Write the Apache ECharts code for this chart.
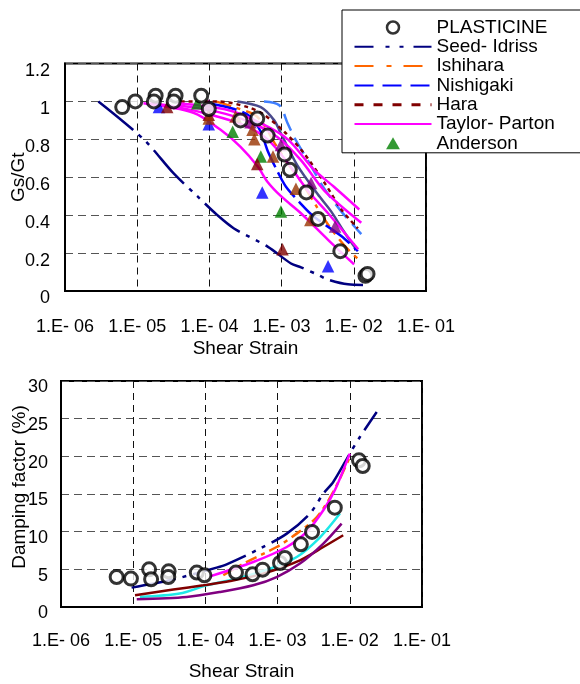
<!DOCTYPE html>
<html>
<head>
<meta charset="utf-8">
<script src="https://cdn.jsdelivr.net/npm/echarts@6.0.0/dist/echarts.min.js"></script>
<style>
  html, body { margin: 0; padding: 0; background: #fff; }
  #chart { width: 580px; height: 684px; }
</style>
</head>
<body>
<div id="chart"></div>
<script>
var FONT = '"Liberation Sans", Arial, sans-serif';

// tick labels of the log strain axis, 1e-6 .. 1e-1
var xTickLabels = ['1.E- 06', '1.E- 05', '1.E- 04', '1.E- 03', '1.E- 02', '1.E- 01'];

// ---- top chart : Gs/Gt vs shear strain ----
var plasticineG = [[6.2e-6, 0.97], [9.4e-6, 1.00], [1.8e-5, 1.03], [1.7e-5, 1.00], [3.4e-5, 1.03],
  [3.2e-5, 1.00], [7.7e-5, 1.03], [9.8e-5, 0.96], [2.7e-4, 0.90], [4.6e-4, 0.91], [6.4e-4, 0.82],
  [1.1e-3, 0.72], [1.3e-3, 0.64], [2.2e-3, 0.52], [3.2e-3, 0.38], [6.5e-3, 0.21], [1.45e-2, 0.08],
  [1.55e-2, 0.09]];
var seedIdrissG = [[2.9e-6, 1.00], [1.23e-5, 0.80], [3.2e-5, 0.62], [6.8e-5, 0.50], [1.29e-4, 0.40],
  [2.19e-4, 0.33], [6.4e-4, 0.234], [1.35e-3, 0.145], [1.86e-3, 0.125], [3.2e-3, 0.085],
  [4.4e-3, 0.06], [8.3e-3, 0.035], [1.34e-2, 0.032]];
var seedIdrissUpperG = [[2.44e-4, 1.00], [5.15e-4, 0.97], [7.9e-4, 0.90], [9.8e-4, 0.83], [1.67e-3, 0.66],
  [3.17e-3, 0.51], [4.85e-3, 0.42], [7.4e-3, 0.31], [1.08e-2, 0.22]];
var ishiharaG = [[1.22e-4, 1.00], [2.2e-4, 0.97], [4.2e-4, 0.93], [5.5e-4, 0.885], [8.3e-4, 0.77],
  [1.26e-3, 0.665], [1.85e-3, 0.58], [3.0e-3, 0.45], [4.6e-3, 0.34], [7.8e-3, 0.23], [1.14e-2, 0.17]];
var nishigakiG = [[9.4e-5, 0.99], [2.2e-4, 0.96], [3.7e-4, 0.92], [5.15e-4, 0.84], [6.4e-4, 0.74],
  [8.8e-4, 0.63], [1.15e-3, 0.55], [1.85e-3, 0.46], [2.84e-3, 0.39], [6.7e-3, 0.29], [1.14e-2, 0.21]];
var nishigakiUpperG = [[5.7e-4, 1.00], [9.3e-4, 0.98], [1.21e-3, 0.885], [1.5e-3, 0.81], [2.3e-3, 0.69],
  [3.9e-3, 0.54], [6.7e-3, 0.42], [1.27e-2, 0.30]];
var haraG = [[4.0e-5, 1.00], [1.29e-4, 1.00], [3.4e-4, 0.97], [5.7e-4, 0.93], [1.09e-3, 0.84],
  [1.96e-3, 0.735], [4.1e-3, 0.56], [6.7e-3, 0.43], [1.14e-2, 0.33]];
var taylorG1 = [[1.22e-5, 0.99], [6.0e-5, 0.94], [1.43e-4, 0.85], [2.7e-4, 0.76], [4.7e-4, 0.655],
  [6.4e-4, 0.575], [9.8e-4, 0.50], [1.85e-3, 0.41], [4.4e-3, 0.27], [1.01e-2, 0.14]];
var taylorG2 = [[1.52e-5, 0.99], [3.6e-5, 0.97], [1.04e-4, 0.93], [3.0e-4, 0.875], [6.4e-4, 0.80],
  [1.22e-3, 0.675], [2.3e-3, 0.53], [4.4e-3, 0.41], [1.15e-2, 0.22]];
var taylorG3 = [[3.6e-5, 0.98], [1.3e-4, 0.945], [3.7e-4, 0.89], [8.9e-4, 0.81], [1.85e-3, 0.69],
  [3.9e-3, 0.53], [1.27e-2, 0.36]];
var taylorG4 = [[3.6e-5, 0.99], [1.8e-4, 0.955], [5.15e-4, 0.885], [1.22e-3, 0.80], [2.8e-3, 0.64],
  [5.3e-3, 0.55], [1.19e-2, 0.43]];
var andersonGreen = [[6.8e-5, 0.99], [2.1e-4, 0.84], [5.15e-4, 0.71], [9.8e-4, 0.42]];
var andersonBlue = [[2.0e-5, 0.97], [9.8e-5, 0.88], [5.4e-4, 0.52], [4.4e-3, 0.13]];
var andersonMaroon = [[2.6e-5, 0.97], [9.8e-5, 0.93], [4.6e-4, 0.67], [1.03e-3, 0.22]];
var andersonPurple = [[9.8e-5, 0.98], [3.7e-4, 0.89], [9.8e-4, 0.77], [2.56e-3, 0.57], [5.5e-3, 0.34]];
var andersonBrown = [[9.8e-5, 0.91], [2.3e-4, 0.92], [3.95e-4, 0.85], [4.2e-4, 0.80], [7.6e-4, 0.71],
  [1.58e-3, 0.54], [2.5e-3, 0.375]];

// ---- bottom chart : damping factor (%) vs shear strain ----
var plasticineD = [[5.9e-6, 3.98], [9.3e-6, 3.77], [1.66e-5, 5.0], [1.77e-5, 3.68], [3.1e-5, 4.74],
  [3.06e-5, 3.98], [7.6e-5, 4.57], [9.7e-5, 4.21], [2.65e-4, 4.57], [4.5e-4, 4.34], [6.2e-4, 4.96],
  [1.08e-3, 5.84], [1.26e-3, 6.51], [2.1e-3, 8.32], [3.0e-3, 9.96], [6.2e-3, 13.19], [1.34e-2, 19.47],
  [1.51e-2, 18.72]];
var seedIdrissD = [[9.5e-6, 2.57], [3.2e-5, 3.54], [1.43e-4, 5.23], [1.97e-4, 5.67], [5.7e-4, 7.75],
  [1.34e-3, 9.74], [2.8e-3, 12.4], [4.3e-3, 15.05], [5.9e-3, 16.6], [1.0e-2, 20.36], [1.38e-2, 22.57],
  [2.36e-2, 25.89]];
var ishiharaD = [[1.77e-4, 4.21], [3.7e-4, 5.97], [9.7e-4, 7.96], [1.84e-3, 9.74], [3.5e-3, 11.95],
  [5.9e-3, 15.27], [1.0e-2, 19.91]];
var taylorD = [[1.16e-4, 4.07], [4.6e-4, 5.97], [1.34e-3, 7.96], [2.53e-3, 9.96], [4.3e-3, 12.84],
  [6.2e-3, 15.49], [1.0e-2, 20.36]];
var cyanD = [[1.24e-5, 1.33], [4.4e-5, 1.78], [1.04e-4, 2.88], [2.7e-4, 3.77], [7.85e-4, 5.10],
  [1.84e-3, 6.64], [3.9e-3, 9.29], [7.3e-3, 12.4]];
var maroonD = [[1.06e-5, 1.55], [3.6e-5, 2.31], [9.4e-5, 2.88], [2.2e-4, 3.45], [6.3e-4, 4.43],
  [2.04e-3, 6.20], [4.3e-3, 7.96], [8.1e-3, 9.52]];
var purpleD = [[1.12e-5, 1.02], [5.5e-5, 1.33], [1.59e-4, 1.99], [4.6e-4, 2.88], [9.7e-4, 3.98],
  [2.04e-3, 5.76], [4.3e-3, 8.42], [7.7e-3, 11.07]];

function curve(name, data, color, dash, grid) {
  return {
    type: 'line', name: name, data: data, xAxisIndex: grid, yAxisIndex: grid,
    symbol: 'none', smooth: 0.3, z: 2,
    itemStyle: { color: color },
    lineStyle: { color: color, width: 2.5, type: dash }
  };
}

function marks(name, data, symbol, color, grid) {
  var circle = symbol === 'circle';
  return {
    type: 'scatter', name: name, data: data, xAxisIndex: grid, yAxisIndex: grid,
    symbol: symbol, symbolSize: circle ? 13 : 12.5, z: circle ? 4 : 3,
    itemStyle: circle ? { color: '#fff', borderColor: '#000', borderWidth: 3 } : { color: color }
  };
}

function xAxisFor(grid, margin, nameGap) {
  return {
    type: 'log', logBase: 10, min: 1e-6, max: 1e-1, gridIndex: grid,
    name: 'Shear Strain', nameLocation: 'middle', nameGap: nameGap, nameMoveOverlap: false,
    nameTextStyle: { fontSize: 19, color: '#000', fontFamily: FONT },
    axisLine: { show: true, lineStyle: { color: '#000', width: 2 } },
    axisTick: { show: false },
    axisLabel: {
      margin: margin, fontSize: 18, color: '#000', fontFamily: FONT,
      showMinLabel: true, showMaxLabel: true,
      formatter: function (v) { return xTickLabels[Math.round(Math.log10(v)) + 6]; }
    },
    splitLine: { show: true, lineStyle: { type: [7, 5], color: '#111', width: 1 } }
  };
}

function yAxisFor(grid, max, interval, name, nameGap, margin, namePad, labelLine) {
  return {
    type: 'value', gridIndex: grid, min: 0, max: max, interval: interval,
    name: name, nameLocation: 'middle', nameGap: nameGap, nameMoveOverlap: false,
    nameTextStyle: { fontSize: 19, color: '#000', fontFamily: FONT, padding: namePad },
    axisLine: { show: true, lineStyle: { color: '#000', width: 2 } },
    axisTick: { show: false },
    axisLabel: { margin: margin, fontSize: 18, color: '#000', fontFamily: FONT, verticalAlign: 'top', lineHeight: labelLine },
    splitLine: { show: true, lineStyle: { type: [8, 5], color: '#555', width: 1.2 } }
  };
}

var hidden = { opacity: 0 };

var chart = echarts.init(document.getElementById('chart'));

chart.setOption({
  animation: false,
  backgroundColor: '#fff',
  grid: [
    { left: 65, top: 63.5, width: 361, height: 227.5, show: true, borderColor: '#000', borderWidth: 2,
      outerBoundsMode: 'none', containLabel: false },
    { left: 61, top: 381, width: 361, height: 226, show: true, borderColor: '#000', borderWidth: 2,
      outerBoundsMode: 'none', containLabel: false }
  ],
  xAxis: [xAxisFor(0, 27, 48), xAxisFor(1, 25, 55)],
  yAxis: [
    yAxisFor(0, 1.2, 0.2, 'Gs/Gt', 37, 15, 0, 15),
    yAxisFor(1, 30, 5, 'Damping factor (%)', 32, 13, [0, 0, 0, 14], 13)
  ],
  legend: {
    orient: 'vertical', left: 342, top: 10,
    padding: [8, 30, 0, 11],
    itemWidth: 77, itemHeight: 12, itemGap: 0.3,
    symbolKeepAspect: true,
    backgroundColor: '#fff', borderColor: '#000', borderWidth: 1, borderRadius: 0,
    selectedMode: false,
    textStyle: { fontSize: 19, lineHeight: 19, color: '#000', fontFamily: FONT },
    data: [
      { name: 'PLASTICINE', itemStyle: { color: '#fff', borderColor: '#000', borderWidth: 2.5 } },
      { name: 'Seed- Idriss', itemStyle: hidden, lineStyle: { type: [19, 12, 4, 10, 4, 10] } },
      { name: 'Ishihara', itemStyle: hidden, lineStyle: { type: [19, 13, 5, 12] } },
      { name: 'Nishigaki', itemStyle: hidden, lineStyle: { type: [19, 9] } },
      { name: 'Hara', itemStyle: hidden, lineStyle: { type: [9, 10], width: 3 } },
      { name: 'Taylor- Parton', itemStyle: hidden },
      { name: 'Anderson', icon: 'path://M6,0 L12,10.4 L0,10.4 Z' }
    ]
  },
  series: [
    curve('Seed- Idriss', seedIdrissG, '#000080', [45, 7, 4, 7, 4, 7], 0),
    curve('Seed- Idriss upper', seedIdrissUpperG, '#4a4a8c', 'solid', 0),
    curve('Ishihara', ishiharaG, '#ff6600', [16, 6, 4, 6], 0),
    curve('Nishigaki', nishigakiG, '#0000ff', [30, 6], 0),
    curve('Nishigaki upper', nishigakiUpperG, '#3f7fff', [18, 8], 0),
    curve('Hara', haraG, '#800000', [4, 4], 0),
    curve('Taylor- Parton', taylorG1, '#ff00ff', 'solid', 0),
    curve('Taylor- Parton', taylorG2, '#ff00ff', 'solid', 0),
    curve('Taylor- Parton', taylorG3, '#ff00ff', 'solid', 0),
    curve('Taylor- Parton', taylorG4, '#ff00ff', 'solid', 0),
    marks('Anderson', andersonGreen, 'triangle', '#008000', 0),
    marks('Anderson blue', andersonBlue, 'triangle', '#0000ff', 0),
    marks('Anderson maroon', andersonMaroon, 'triangle', '#800000', 0),
    marks('Anderson purple', andersonPurple, 'triangle', '#800080', 0),
    marks('Anderson brown', andersonBrown, 'triangle', '#993300', 0),
    marks('PLASTICINE', plasticineG, 'circle', '#000', 0),

    curve('Seed- Idriss', seedIdrissD, '#000080', [45, 7, 4, 7, 4, 7], 1),
    curve('Ishihara', ishiharaD, '#ff6600', [12, 5, 4, 5], 1),
    curve('Taylor- Parton', taylorD, '#ff00ff', 'solid', 1),
    curve('cyan', cyanD, '#1ee8e8', 'solid', 1),
    curve('maroon', maroonD, '#800000', 'solid', 1),
    curve('purple', purpleD, '#800080', 'solid', 1),
    marks('PLASTICINE', plasticineD, 'circle', '#000', 1)
  ]
});
</script>
</body>
</html>
